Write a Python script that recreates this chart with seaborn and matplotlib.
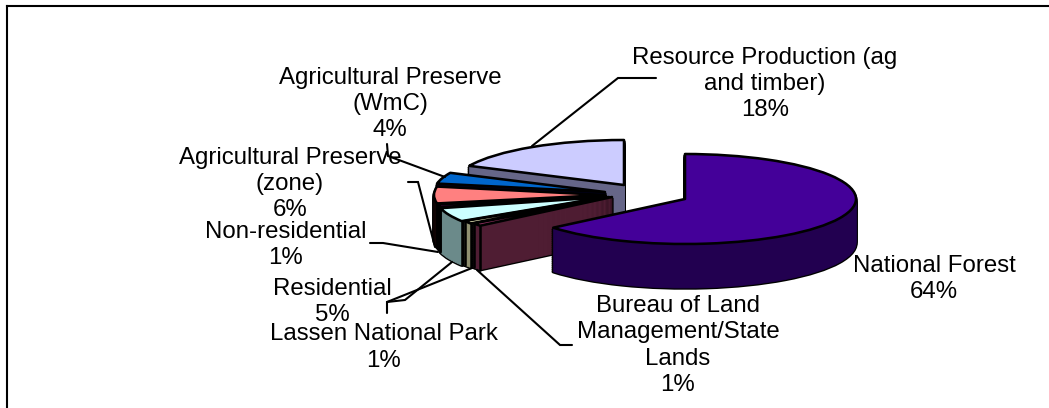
import math
import matplotlib
matplotlib.use("Agg")
import matplotlib.pyplot as plt
import seaborn as sns

categories = ["National Forest", "Bureau of Land\nManagement/State\nLands", "Lassen National Park",
              "Residential", "Non-residential", "Agricultural Preserve\n(zone)",
              "Agricultural Preserve\n(WmC)", "Resource Production (ag\nand timber)"]
shares = [64, 1, 1, 5, 1, 6, 4, 18]

top_colors = ["#440099", "#993366", "#FFFFCC", "#CCFFFF", "#660066", "#FF8080", "#0066CC", "#CCCCFF"]
side_colors = ["#220050", "#4F1D33", "#8F8F70", "#6B8A8A", "#100010", "#100404", "#000022", "#666688"]

# slice apex in picture pixels
apex_x = [685, 612, 609, 606, 606, 605, 605, 624]
apex_y = [199, 197, 197, 197, 196, 195, 192, 185]
label_x = [934, 678, 384, 332, 286, 290, 390, 765]
label_y = [279, 345.5, 347.5, 302, 245, 184, 104, 84]
# leader lines in picture pixels, None for no leader
leaders = [None,
           [(477, 270), (560, 345), (572, 345)],
           [(387, 313), (387, 302), (472, 268)],
           [(387, 302), (405, 300), (452, 262)],
           [(370, 243), (383, 243), (438, 252)],
           [(408, 182), (418, 182), (435, 247)],
           [(387, 144), (388, 156), (445, 177)],
           [(532, 146), (618, 78), (656, 78)]]

W, H = 1049, 408
RX, RY, DEPTH = 171, 45, 44
K = RX / RY

sns.set_style("white")
plt.rcParams["font.family"] = ["Liberation Sans", "DejaVu Sans"]
palette = sns.color_palette(top_colors)


def Y(py):
    return -py * K


fig = plt.figure(figsize=(W / 100, H / 100), dpi=100)
ax = fig.add_axes([7 / W, 0, 1 - 7 / W, 1 - 6 / H])
EDGE = 1.15


def layer(i, cx, cy, color, edge=None, lw=0.0):
    wedges, _ = ax.pie(shares, startangle=90, counterclock=False, radius=RX, center=(cx, Y(cy)),
                       colors=[color] * len(shares), labeldistance=None,
                       wedgeprops=dict(edgecolor=edge if edge else color, linewidth=lw, joinstyle="round"))
    for j, w in enumerate(wedges):
        if j != i:
            w.remove()


start = 90.0
angles = []
for s in shares:
    angles.append((start, start - s * 3.6))
    start -= s * 3.6

order = [7, 6, 5, 4, 3, 2, 1, 0]
for i in order:
    cx, cy = apex_x[i], apex_y[i]
    for d in range(DEPTH, 0, -2):
        layer(i, cx, cy + d, "black", "black", EDGE * 2.2)
    for d in range(DEPTH, 0, -1):
        layer(i, cx, cy + d, side_colors[i], side_colors[i], 0.6)
    layer(i, cx, cy, palette[i], "black", EDGE * 1.6)
    if i != 0:
        for a in angles[i]:
            r = math.radians(a)
            if math.sin(r) < 0:
                px = cx + RX * math.cos(r)
                py = cy - RY * math.sin(r)
                ax.plot([px, px], [Y(py), Y(py + DEPTH)], color="black", lw=EDGE * 1.6)

for pts in leaders:
    if pts:
        ax.plot([p[0] for p in pts], [Y(p[1]) for p in pts], color="black", lw=1.5, solid_joinstyle="miter")

for name, val, x, y in zip(categories, shares, label_x, label_y):
    ax.text(x, Y(y), f"{name}\n{val}%", ha="center", va="center", multialignment="center",
            fontsize=17.3, color="black", linespacing=1.24)

ax.set_aspect("auto")
ax.set_xlim(7, W)
ax.set_ylim(Y(H), Y(6))
ax.set_frame_on(True)
sns.despine(ax=ax, top=False, left=False, right=True, bottom=True)
ax.spines["top"].set_linewidth(1.5)
ax.spines["left"].set_linewidth(1.5)
ax.spines["top"].set_color("black")
ax.spines["left"].set_color("black")
ax.set_xticks([])
ax.set_yticks([])
fig.savefig("out.png", dpi=100, facecolor="white")
